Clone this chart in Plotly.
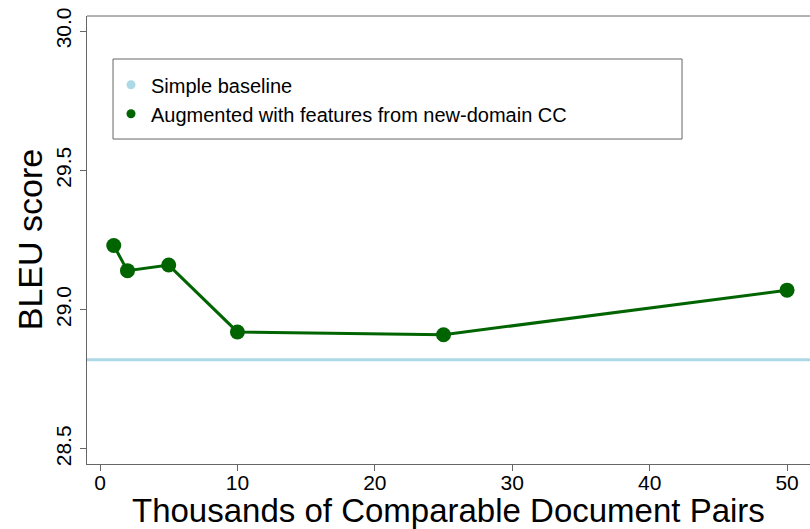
import plotly.graph_objects as go

# data
pairs_k = [1, 2, 5, 10, 25, 50]
bleu_augmented = [29.23, 29.14, 29.16, 28.92, 28.91, 29.07]
bleu_baseline = 28.82

x_ticks = [0, 10, 20, 30, 40, 50]
y_ticks = [28.5, 29.0, 29.5, 30.0]
y_ticklabels = ["28.5", "29.0", "29.5", "30.0"]

light_blue = "#ADD8E6"
dark_green = "#006400"
font_family = "Liberation Sans, Arial, sans-serif"

fig = go.Figure()

# baseline spans the whole plot width
fig.add_hline(y=bleu_baseline, line_color=light_blue, line_width=3)

fig.add_trace(
    go.Scatter(
        x=pairs_k,
        y=bleu_augmented,
        mode="lines+markers",
        line=dict(color=dark_green, width=3),
        marker=dict(color=dark_green, size=15),
        showlegend=False,
    )
)

# legend-only entries (R style dots)
for name, color in (
    ("Simple baseline", light_blue),
    ("Augmented with features from new-domain CC", dark_green),
):
    fig.add_trace(
        go.Scatter(
            x=[None],
            y=[None],
            mode="markers",
            name=name,
            marker=dict(color=color, size=9),
        )
    )

# legend box
fig.add_shape(
    type="rect",
    xref="paper",
    yref="paper",
    x0=0.036,
    x1=0.823,
    y0=0.7254,
    y1=0.904,
    line=dict(color="#666666", width=1),
    fillcolor="rgba(0,0,0,0)",
)
# top edge of the frame
fig.add_shape(
    type="line",
    xref="paper",
    yref="paper",
    x0=0,
    x1=1,
    y0=1,
    y1=1,
    line=dict(color="#666666", width=1),
)

# axis titles as annotations so they sit where R put them
fig.add_annotation(
    text="Thousands of Comparable Document Pairs",
    xref="paper",
    yref="paper",
    x=0.5,
    y=-0.1027,
    xanchor="center",
    yanchor="middle",
    showarrow=False,
    font=dict(size=33, color="black"),
)
fig.add_annotation(
    text="BLEU score",
    xref="paper",
    yref="paper",
    x=-0.0785,
    y=0.5,
    xanchor="center",
    yanchor="middle",
    textangle=-90,
    showarrow=False,
    font=dict(size=34, color="black"),
)

fig.update_xaxes(
    range=[-0.946, 51.67],
    tickvals=x_ticks,
    ticks="outside",
    ticklen=6,
    tickcolor="#666666",
    showline=True,
    linecolor="#666666",
    linewidth=1,
    showgrid=False,
    zeroline=False,
    tickfont=dict(size=21, color="black"),
    ticklabelstandoff=-6,
)
fig.update_yaxes(
    range=[28.446, 30.054],
    tickvals=y_ticks,
    ticktext=y_ticklabels,
    tickangle=-90,
    ticks="outside",
    ticklen=6,
    tickcolor="#666666",
    showline=True,
    linecolor="#666666",
    linewidth=1,
    showgrid=False,
    zeroline=False,
    tickfont=dict(size=21, color="black"),
    ticklabelstandoff=1,
)

fig.update_layout(
    width=810,
    height=529,
    margin=dict(l=87, r=0, t=16, b=65),
    paper_bgcolor="white",
    plot_bgcolor="white",
    font=dict(family=font_family, color="black"),
    legend=dict(
        x=0.0332,
        y=0.89,
        xanchor="left",
        yanchor="top",
        bgcolor="rgba(0,0,0,0)",
        borderwidth=0,
        font=dict(size=20, color="black"),
        tracegroupgap=0,
    ),
)

fig.write_html(
    "out.html",
    config={"displayModeBar": False},
    post_script="document.body.style.margin = '0';",
)
